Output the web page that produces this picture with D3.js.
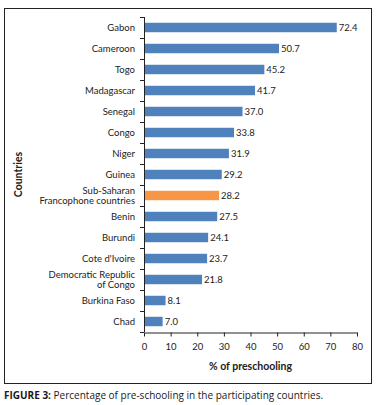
<!DOCTYPE html>
<html>
<head>
<meta charset="utf-8">
<script src="https://cdn.jsdelivr.net/npm/d3@7"></script>
<style>
  body { margin: 0; background: #fff; }
  text { font-family: Lato, "Open Sans", sans-serif; }
</style>
</head>
<body>
<div id="chart"></div>
<script>
const countries = ['Gabon', 'Cameroon', 'Togo', 'Madagascar', 'Senegal', 'Congo', 'Niger', 'Guinea',
  'Sub-Saharan|Francophone countries', 'Benin', 'Burundi', "Cote d'Ivoire",
  'Democratic Republic|of Congo', 'Burkina Faso', 'Chad'];
const values = [72.4, 50.7, 45.2, 41.7, 37.0, 33.8, 31.9, 29.2, 28.2, 27.5, 24.1, 23.7, 21.8, 8.1, 7.0];
const highlight = 'Sub-Saharan|Francophone countries';
const xTicks = [0, 10, 20, 30, 40, 50, 60, 70, 80];

const width = 378;
const height = 405;
const margin = { top: 17, bottom: 73, left: 144, right: 21 };

const svg = d3.select('#chart')
  .append('svg')
  .attr('width', width)
  .attr('height', height);

// outer frame
svg.append('rect')
  .attr('x', 4.5).attr('y', 8.5)
  .attr('width', 367).attr('height', 375)
  .attr('fill', 'none').attr('stroke', '#222').attr('stroke-width', 1);

const x = d3.scaleLinear()
  .domain([0, 80])
  .range([margin.left, width - margin.right]);

const y = d3.scaleBand()
  .domain(countries)
  .range([margin.top, height - margin.bottom])
  .paddingInner(0.55)
  .paddingOuter(0.275);

svg.append('g')
  .selectAll('rect')
  .data(countries)
  .join('rect')
    .attr('x', x(0))
    .attr('y', d => y(d))
    .attr('width', (d, i) => x(values[i]) - x(0))
    .attr('height', y.bandwidth())
    .attr('fill', d => d === highlight ? '#F79646' : '#4F81BD');

svg.append('g')
  .selectAll('text')
  .data(countries)
  .join('text')
    .attr('x', (d, i) => x(values[i]) + 2)
    .attr('y', d => y(d) + y.bandwidth() / 2)
    .attr('dy', '0.35em')
    .attr('font-size', 9.5)
    .attr('fill', '#222')
    .text((d, i) => values[i].toFixed(1));

// y axis: line with ticks between categories
const yTop = margin.top, yBot = height - margin.bottom;
const step = (yBot - yTop) / countries.length;
const yAxis = svg.append('g');
yAxis.append('line')
  .attr('x1', x(0) + 0.5).attr('x2', x(0) + 0.5)
  .attr('y1', yTop).attr('y2', yBot)
  .attr('stroke', '#222');
yAxis.selectAll('.tk')
  .data(d3.range(countries.length + 1))
  .join('line')
    .attr('x1', x(0) - 4).attr('x2', x(0))
    .attr('y1', i => Math.round(yTop + i * step) + 0.5)
    .attr('y2', i => Math.round(yTop + i * step) + 0.5)
    .attr('stroke', '#222');

yAxis.selectAll('.lbl')
  .data(countries)
  .join('text')
    .attr('text-anchor', 'end')
    .attr('font-size', 9.5)
    .attr('fill', '#222')
    .attr('x', x(0) - 9)
    .attr('y', d => y(d) + y.bandwidth() / 2)
    .each(function(d) {
      const lines = d.split('|');
      const t = d3.select(this);
      lines.forEach((l, j) => {
        t.append('tspan')
          .attr('x', x(0) - 9)
          .attr('dy', j === 0 ? (0.35 - (lines.length - 1) * 0.55) + 'em' : '1.1em')
          .text(l);
      });
    });

// x axis
const xAxis = svg.append('g')
  .attr('transform', `translate(0,${yBot + 0.5})`)
  .call(d3.axisBottom(x).tickValues(xTicks).tickSize(4).tickSizeOuter(0));
xAxis.select('.domain').attr('stroke', '#222');
xAxis.selectAll('.tick line').attr('stroke', '#222');
xAxis.selectAll('.tick text')
  .attr('font-size', 9.5)
  .attr('fill', '#222')
  .attr('dy', '1.1em');

svg.append('text')
  .attr('x', (x(0) + x(80)) / 2)
  .attr('y', 370)
  .attr('text-anchor', 'middle')
  .attr('font-size', 10.5)
  .attr('font-weight', 'bold')
  .attr('fill', '#222')
  .text('% of preschooling');

svg.append('text')
  .attr('transform', `translate(22,${(yTop + yBot) / 2}) rotate(-90)`)
  .attr('text-anchor', 'middle')
  .attr('font-size', 10.5)
  .attr('font-weight', 'bold')
  .attr('fill', '#222')
  .text('Countries');

const cap = svg.append('text')
  .attr('x', 4)
  .attr('y', 399)
  .attr('font-size', 10)
  .style('font-family', '"Open Sans", sans-serif')
  .attr('fill', '#1a1a1a');
cap.append('tspan').attr('font-weight', 'bold').text('FIGURE 3: ');
cap.append('tspan').text('Percentage of pre-schooling in the participating countries.');
</script>
</body>
</html>
